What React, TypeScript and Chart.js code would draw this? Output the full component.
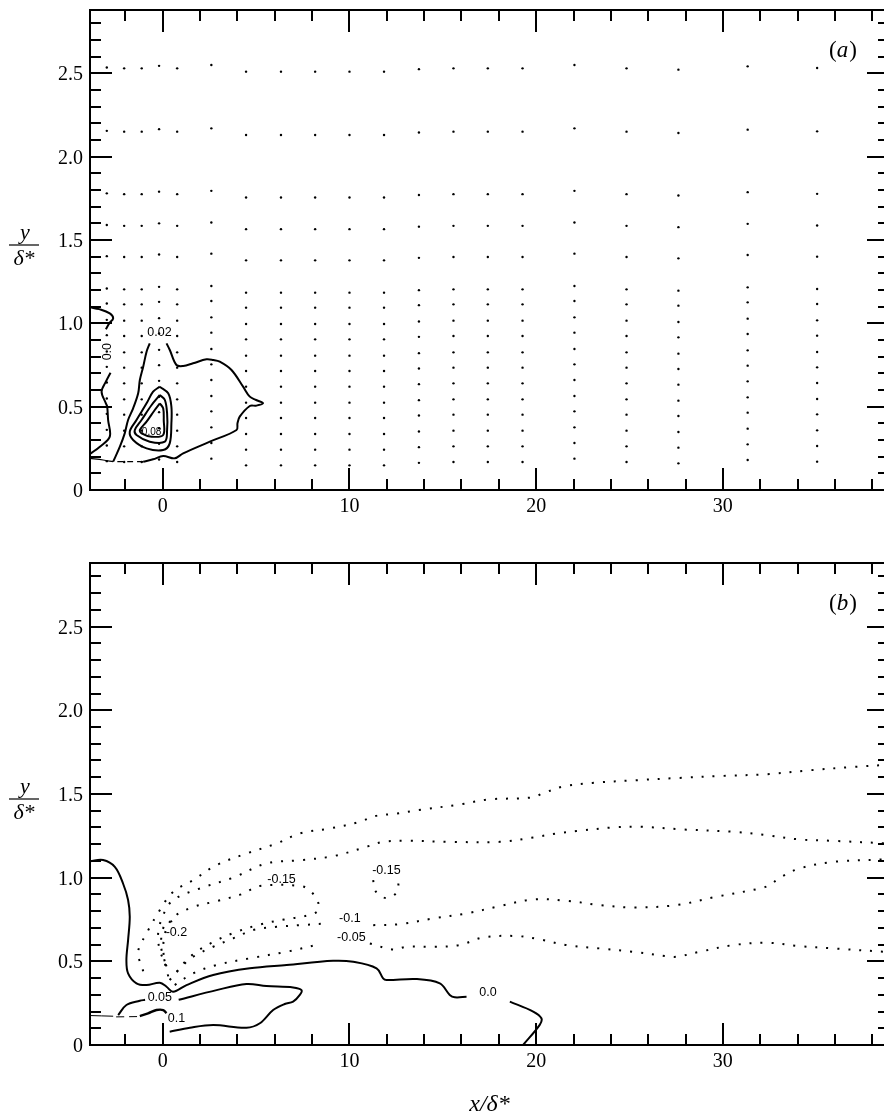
import React, { useEffect, useRef } from "react";
import { Chart, registerables } from "chart.js";

Chart.register(...registerables);

// Axis extents shared by both panels
const X_MIN = -3.9;
const X_MAX = 38.9;
const Y_MIN = 0;
const Y_MAX = 2.88;

// Tick positions
const X_LABEL_TICKS = [0, 10, 20, 30];
const X_MINOR_TICKS = [-2, 2, 4, 6, 8, 12, 14, 16, 18, 22, 24, 26, 28, 32, 34, 36, 38];
const Y_LABEL_TICKS = [0, 0.5, 1.0, 1.5, 2.0, 2.5];
const Y_TICK_TEXT = ["0", "0.5", "1.0", "1.5", "2.0", "2.5"];
const Y_MINOR_TICKS = [
  0.1, 0.2, 0.3, 0.4, 0.6, 0.7, 0.8, 0.9, 1.1, 1.2, 1.3, 1.4, 1.6, 1.7, 1.8, 1.9,
  2.1, 2.2, 2.3, 2.4, 2.6, 2.7, 2.8,
];

// Measurement stations (panel a): streamwise columns, wall-normal rows, per-column offset
const GRID_X = [
  -3.0, -2.07, -1.13, -0.2, 0.77, 2.6, 4.46, 6.33, 8.16, 10.0, 11.85, 13.72, 15.57,
  17.41, 19.27, 22.05, 24.84, 27.62, 31.33, 35.05,
];
const GRID_SHIFT = [
  0.025, 0.02, 0.02, 0.035, 0.02, 0.04, 0, 0, 0, 0, 0, 0.015, 0.02, 0.02, 0.02, 0.04,
  0.02, 0.012, 0.032, 0.022,
];
const GRID_Y = [
  2.51, 2.13, 1.755, 1.565, 1.378, 1.184, 1.094, 0.996, 0.904, 0.806, 0.714, 0.62,
  0.524, 0.432, 0.336, 0.242, 0.148,
];

// Panel (a) contour lines
const A_ZERO_TOP = [[-3.9, 1.096], [-3.4, 1.085], [-2.84, 1.06], [-2.66, 1.03], [-2.87, 1.0], [-3.05, 0.964]];
const A_ZERO_LOW = [[-2.8, 0.704], [-3.05, 0.65], [-3.28, 0.59], [-3.05, 0.52], [-2.98, 0.5], [-2.93, 0.42], [-2.84, 0.32], [-3.37, 0.26], [-3.9, 0.216]];
const A_EDGE = [[-3.9, 0.19], [-3.2, 0.18], [-2.66, 0.17]];
const A_002_LEFT = [[-2.66, 0.17], [-2.3, 0.26], [-2.04, 0.34], [-1.86, 0.42], [-1.59, 0.49], [-1.32, 0.58], [-1.23, 0.66], [-1.05, 0.74], [-0.87, 0.83], [-0.7, 0.88]];
const A_002_RIGHT = [[0.2, 0.88], [0.375, 0.84], [0.73, 0.75], [1.09, 0.744], [1.62, 0.76], [2.34, 0.784], [2.7, 0.78], [3.05, 0.77], [3.68, 0.72], [4.3, 0.62], [4.66, 0.56], [5.0, 0.54], [5.37, 0.52], [5.0, 0.506], [4.66, 0.504], [4.12, 0.44], [4.0, 0.4], [3.95, 0.36], [2.52, 0.29], [1.09, 0.22], [0.64, 0.19], [0.02, 0.204], [-0.52, 0.184], [-1.05, 0.17]];
const A_002_BASE = [[-1.05, 0.17], [-2.66, 0.17]];
const A_LOOP_1 = [[-0.16, 0.62], [0.29, 0.58], [0.46, 0.5], [0.46, 0.4], [0.37, 0.28], [0.02, 0.24], [-0.87, 0.25], [-1.59, 0.3], [-1.77, 0.35], [-1.41, 0.42], [-0.87, 0.52], [-0.52, 0.59], [-0.16, 0.62]];
const A_LOOP_2 = [[-0.16, 0.57], [0.11, 0.54], [0.23, 0.46], [0.23, 0.36], [0.11, 0.29], [-0.7, 0.29], [-1.41, 0.33], [-1.5, 0.36], [-1.14, 0.42], [-0.6, 0.51], [-0.16, 0.57]];
const A_LOOP_3 = [[-0.16, 0.52], [0.02, 0.49], [0.05, 0.42], [0.02, 0.33], [-0.6, 0.32], [-1.14, 0.34], [-1.23, 0.36], [-0.87, 0.41], [-0.43, 0.48], [-0.16, 0.52]];

// Panel (b) contour lines: solid (positive / zero)
const B_ZERO = [[-3.9, 1.098], [-3.2, 1.105], [-2.57, 1.064], [-2.13, 0.965], [-1.86, 0.866], [-1.77, 0.766], [-1.86, 0.627], [-1.95, 0.507], [-1.86, 0.428], [-1.41, 0.368], [-0.87, 0.358], [-0.16, 0.372], [0.2, 0.348], [0.55, 0.318], [1.27, 0.358], [2.7, 0.418], [4.66, 0.458], [6.63, 0.478], [9.12, 0.503], [10.2, 0.497], [11.45, 0.458], [11.8, 0.398], [11.98, 0.388], [13.6, 0.394], [14.84, 0.368], [15.37, 0.299], [15.64, 0.285], [16.27, 0.288]];
const B_ZERO_END = [[18.59, 0.259], [19.84, 0.2], [20.28, 0.16], [20.19, 0.12], [19.3, 0.0]];
const B_005_LEFT = [[-2.39, 0.179], [-1.95, 0.239], [-1.23, 0.264], [-0.95, 0.27]];
const B_005_RIGHT = [[0.85, 0.27], [2.88, 0.328], [4.48, 0.364], [5.55, 0.352], [6.98, 0.344], [7.43, 0.328], [7.34, 0.299], [6.98, 0.259], [6.53, 0.245], [5.91, 0.209], [5.2, 0.13], [4.48, 0.103], [2.7, 0.119], [1.45, 0.103], [0.37, 0.079]];
const B_01 = [[-1.23, 0.173], [-0.79, 0.189], [-0.34, 0.209], [0.02, 0.209], [0.2, 0.19]];
const B_EDGE = [[-3.9, 0.176], [-2.66, 0.172]];
const B_EDGE_DASH = [[-2.5, 0.168], [-1.25, 0.17]];

// Panel (b) contour lines: dotted (negative)
const B_N005_UPPER = [[-1.05, 0.44], [-1.32, 0.557], [-0.87, 0.667], [-0.16, 0.806], [0.55, 0.915], [1.62, 0.985], [2.88, 1.075], [4.48, 1.144], [6.09, 1.204], [7.34, 1.264], [8.95, 1.294], [10.55, 1.333], [11.33, 1.367], [12.52, 1.383], [13.67, 1.403], [16.0, 1.439], [17.4, 1.467], [19.74, 1.479], [20.44, 1.507], [21.5, 1.546], [23.0, 1.566], [25.35, 1.582], [27.69, 1.596], [30.03, 1.608], [32.36, 1.618], [34.7, 1.642], [37.04, 1.662], [38.9, 1.675]];
const B_N01_UPPER = [[0.2, 0.47], [-0.16, 0.567], [-0.25, 0.667], [0.02, 0.776], [0.55, 0.866], [1.98, 0.935], [3.77, 1.0], [5.55, 1.085], [7.34, 1.104], [9.12, 1.128], [10.91, 1.184], [11.8, 1.214], [13.05, 1.22], [15.37, 1.214], [18.05, 1.214], [19.84, 1.24], [21.09, 1.264], [22.16, 1.278], [24.12, 1.3], [25.55, 1.304], [27.87, 1.288], [30.55, 1.274], [32.34, 1.254], [34.12, 1.228], [35.9, 1.22], [38.9, 1.204]];
const B_N01_LOWER_A = [[0.37, 0.388], [0.91, 0.458], [1.62, 0.527], [2.7, 0.587], [3.77, 0.637], [4.84, 0.687], [6.09, 0.706], [7.34, 0.716], [8.77, 0.726]];
const B_N01_LOWER_B = [[11.27, 0.716], [12.7, 0.722], [14.48, 0.756], [16.27, 0.786], [18.05, 0.83], [19.84, 0.87], [21.62, 0.862], [23.41, 0.836], [25.19, 0.822], [27.51, 0.836], [29.66, 0.886], [31.98, 0.935], [32.5, 0.955], [33.05, 1.0], [34.12, 1.055], [35.9, 1.094], [38.9, 1.11]];
const B_N005_LOWER_A = [[0.64, 0.358], [1.62, 0.428], [2.88, 0.478], [4.66, 0.518], [6.63, 0.557], [8.41, 0.603]];
const B_N005_LOWER_B = [[11.09, 0.607], [12.34, 0.571], [13.05, 0.587], [14.48, 0.587], [15.9, 0.597], [17.16, 0.643], [18.95, 0.651], [20.2, 0.631], [21.62, 0.597], [23.41, 0.577], [25.19, 0.557], [26.98, 0.531], [27.51, 0.527], [28.76, 0.557], [30.55, 0.597], [32.34, 0.611], [34.12, 0.591], [35.9, 0.577], [38.9, 0.555]];
const B_N015 = [[0.29, 0.41], [0.05, 0.53], [0.1, 0.66], [0.55, 0.76], [1.5, 0.82], [2.9, 0.86], [4.2, 0.9], [5.2, 0.95], [7.4, 0.95], [7.9, 0.92], [8.3, 0.86], [8.3, 0.8], [7.6, 0.77], [6.5, 0.75], [5.2, 0.72], [3.8, 0.67], [2.6, 0.61], [1.6, 0.54], [0.9, 0.46], [0.6, 0.4]];
const B_N02 = [[0.1, 0.5], [-0.1, 0.6], [0.1, 0.72], [0.5, 0.74]];
const B_N015_SMALL = [[11.27, 0.985], [11.36, 0.925], [11.8, 0.882], [12.25, 0.886], [12.6, 0.925], [12.6, 0.985]];

// Contour value labels
const A_LABELS = [
  { text: "0.02", x: -0.18, y: 0.944, size: 12.5, rot: 0 },
  { text: "0.08", x: -0.6, y: 0.344, size: 10, rot: 0 },
  { text: "0.0", x: -2.94, y: 0.83, size: 12.5, rot: -90 },
];
const B_LABELS = [
  { text: "-0.15", x: 6.36, y: 0.991, size: 12.5, rot: 0 },
  { text: "-0.15", x: 11.98, y: 1.045, size: 12.5, rot: 0 },
  { text: "-0.2", x: 0.73, y: 0.673, size: 12.5, rot: 0 },
  { text: "-0.1", x: 10.02, y: 0.756, size: 12.5, rot: 0 },
  { text: "-0.05", x: 10.1, y: 0.643, size: 12.5, rot: 0 },
  { text: "0.05", x: -0.16, y: 0.285, size: 12.5, rot: 0 },
  { text: "0.1", x: 0.73, y: 0.159, size: 12.5, rot: 0 },
  { text: "0.0", x: 17.42, y: 0.312, size: 12.5, rot: 0 },
];

const SERIF = '"Liberation Serif", "Times New Roman", serif';
const SANS = '"Liberation Sans", Arial, Helvetica, sans-serif';

type Pt = number[];
const toPts = (arr: Pt[]) => arr.map(([x, y]) => ({ x, y }));

const solid = (arr: Pt[], width = 2, dash: number[] = []) => ({
  data: toPts(arr),
  showLine: true,
  borderColor: "#000",
  borderWidth: width,
  borderDash: dash,
  pointRadius: 0,
  tension: 0.35,
  fill: false,
});

const dotted = (arr: Pt[]) => ({
  data: toPts(arr),
  showLine: true,
  borderColor: "#000",
  borderWidth: 2,
  borderDash: [2, 9],
  borderCapStyle: "butt",
  pointRadius: 0,
  tension: 0.35,
  fill: false,
});

const gridPoints = GRID_X.flatMap((x, i) => GRID_Y.map((y) => ({ x, y: y + GRID_SHIFT[i] })));

function panelDecor(letter: string, labels: typeof A_LABELS, showXTitle: boolean) {
  return {
    id: "panelDecor" + letter,
    afterDatasetsDraw(chart: any) {
      const { ctx, chartArea: a, scales } = chart;
      const xs = scales.x;
      const ys = scales.y;
      ctx.save();

      // contour value labels
      ctx.fillStyle = "#000";
      labels.forEach((l) => {
        ctx.save();
        ctx.font = `${l.size}px ${SANS}`;
        ctx.textAlign = "center";
        ctx.textBaseline = "middle";
        ctx.translate(xs.getPixelForValue(l.x), ys.getPixelForValue(l.y));
        if (l.rot) ctx.rotate((l.rot * Math.PI) / 180);
        ctx.fillText(l.text, 0, 0);
        ctx.restore();
      });

      // frame
      ctx.strokeStyle = "#000";
      ctx.lineWidth = 2;
      ctx.strokeRect(a.left, a.top, a.right - a.left, a.bottom - a.top);

      // inward ticks on all four sides
      const MAJOR = 22;
      const MINOR = 11;
      ctx.beginPath();
      const xTick = (v: number, len: number) => {
        const p = Math.round(xs.getPixelForValue(v));
        ctx.moveTo(p, a.bottom);
        ctx.lineTo(p, a.bottom - len);
        ctx.moveTo(p, a.top);
        ctx.lineTo(p, a.top + len);
      };
      const yTick = (v: number, len: number) => {
        const p = Math.round(ys.getPixelForValue(v));
        ctx.moveTo(a.left, p);
        ctx.lineTo(a.left + len, p);
        ctx.moveTo(a.right, p);
        ctx.lineTo(a.right - len, p);
      };
      X_LABEL_TICKS.forEach((v) => xTick(v, MAJOR));
      X_MINOR_TICKS.forEach((v) => xTick(v, MINOR));
      Y_LABEL_TICKS.forEach((v) => yTick(v, MAJOR));
      Y_MINOR_TICKS.forEach((v) => yTick(v, MINOR));
      ctx.stroke();

      // tick labels
      ctx.font = `20px ${SERIF}`;
      ctx.textBaseline = "alphabetic";
      ctx.textAlign = "center";
      X_LABEL_TICKS.forEach((v) => {
        ctx.fillText(String(v), xs.getPixelForValue(v), a.bottom + 22);
      });
      ctx.textAlign = "right";
      Y_LABEL_TICKS.forEach((v, i) => {
        ctx.fillText(Y_TICK_TEXT[i], a.left - 7, ys.getPixelForValue(v) + 7);
      });

      // y-axis title as a fraction  y / δ*
      const cx = 24;
      const cy = (a.top + a.bottom) / 2 - 5;
      ctx.font = `italic 22px ${SERIF}`;
      ctx.textAlign = "center";
      ctx.fillText("y", cx + 1, cy - 6);
      ctx.fillText("δ*", cx, cy + 20);
      ctx.lineWidth = 1.2;
      ctx.beginPath();
      ctx.moveTo(cx - 15, cy);
      ctx.lineTo(cx + 15, cy);
      ctx.stroke();

      // panel letter (x)
      const size = 23;
      ctx.font = `${size}px ${SERIF}`;
      ctx.textAlign = "left";
      const ly = a.top + 47;
      let lx = 829;
      ctx.fillText("(", lx, ly);
      lx += ctx.measureText("(").width;
      ctx.font = `italic ${size}px ${SERIF}`;
      ctx.fillText(letter, lx, ly);
      lx += ctx.measureText(letter).width + 1;
      ctx.font = `${size}px ${SERIF}`;
      ctx.fillText(")", lx, ly);

      // x-axis title
      if (showXTitle) {
        ctx.font = `italic 24px ${SERIF}`;
        ctx.textAlign = "center";
        ctx.fillText("x/δ*", (a.left + a.right) / 2, a.bottom + 66);
      }
      ctx.restore();
    },
  };
}

function makeConfig(datasets: any[], padding: any, plugin: any) {
  return {
    type: "scatter",
    data: { datasets },
    options: {
      animation: false,
      responsive: false,
      events: [],
      layout: { padding },
      plugins: { legend: { display: false }, tooltip: { enabled: false } },
      scales: {
        x: { type: "linear", min: X_MIN, max: X_MAX, display: false },
        y: { type: "linear", min: Y_MIN, max: Y_MAX, display: false },
      },
    },
    plugins: [plugin],
  } as any;
}

function Panel({ top, height, padding, datasets, letter, labels, showXTitle }: any) {
  const ref = useRef<HTMLCanvasElement | null>(null);
  useEffect(() => {
    if (!ref.current) return;
    const chart = new Chart(ref.current, makeConfig(datasets, padding, panelDecor(letter, labels, showXTitle)));
    return () => chart.destroy();
  }, []);
  return (
    <canvas
      ref={ref}
      width={900}
      height={height}
      style={{ position: "absolute", left: 0, top, width: 900, height }}
    />
  );
}

export default function App() {
  const panelA = [
    {
      data: gridPoints,
      showLine: false,
      pointRadius: 1.2,
      pointBackgroundColor: "#000",
      pointBorderWidth: 0,
    },
    solid(A_ZERO_TOP),
    solid(A_ZERO_LOW),
    solid(A_EDGE, 1.2),
    solid(A_002_LEFT),
    solid(A_002_RIGHT),
    solid(A_002_BASE, 1.4, [6, 4]),
    solid(A_LOOP_1),
    solid(A_LOOP_2),
    solid(A_LOOP_3),
  ];
  const panelB = [
    solid(B_ZERO),
    solid(B_ZERO_END),
    solid(B_005_LEFT),
    solid(B_005_RIGHT),
    solid(B_01, 2.4),
    solid(B_EDGE, 1),
    solid(B_EDGE_DASH, 1, [8, 5]),
    dotted(B_N005_UPPER),
    dotted(B_N01_UPPER),
    dotted(B_N01_LOWER_A),
    dotted(B_N01_LOWER_B),
    dotted(B_N005_LOWER_A),
    dotted(B_N005_LOWER_B),
    dotted(B_N015),
    dotted(B_N02),
    dotted(B_N015_SMALL),
  ];
  return (
    <div style={{ position: "absolute", left: 0, top: 0, width: 884, height: 1115, overflow: "hidden", background: "#fff" }}>
      <Panel
        top={0}
        height={540}
        padding={{ left: 90, top: 10, right: 11, bottom: 50 }}
        datasets={panelA}
        letter="a"
        labels={A_LABELS}
        showXTitle={false}
      />
      <Panel
        top={545}
        height={570}
        padding={{ left: 90, top: 18, right: 11, bottom: 70 }}
        datasets={panelB}
        letter="b"
        labels={B_LABELS}
        showXTitle={true}
      />
    </div>
  );
}
